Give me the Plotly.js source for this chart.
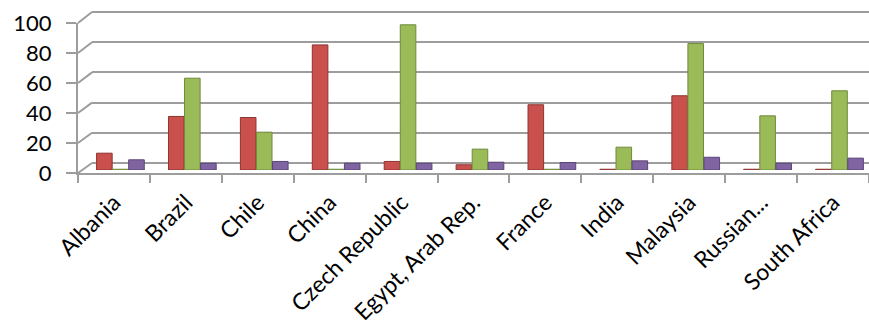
<!DOCTYPE html>
<html>
<head>
<meta charset="utf-8">
<script src="https://cdn.plot.ly/plotly-3.0.1.min.js"></script>
<style>
  html, body { margin: 0; padding: 0; background: #ffffff; }
  #chart { width: 869px; height: 335px; }
</style>
</head>
<body>
<div id="chart"></div>
<script>
// Country categories shown along the floor of the chart
const countries = [
  "Albania", "Brazil", "Chile", "China", "Czech Republic",
  "Egypt, Arab Rep.", "France", "India", "Malaysia", "Russian...", "South Africa"
];

// Three series per country (red, green, purple columns)
const seriesRed    = [11.2, 35.7, 35.0, 83.4,  5.7,  3.5, 43.5,  0.5, 49.5,  0.5,  0.5];
const seriesGreen  = [ 0.5, 61.2, 25.2,  0.5, 96.8, 13.9,  0.5, 15.2, 84.3, 36.1, 52.8];
const seriesPurple = [ 6.8,  4.5,  5.7,  4.5,  4.5,  5.2,  5.0,  6.1,  8.5,  4.5,  7.9];

// Value axis ticks
const yTicks = [0, 20, 40, 60, 80, 100];

const W = 869, H = 335;
const px = v => v / W;          // horizontal pixel -> paper fraction
const py = v => (H - v) / H;    // vertical pixel (from top) -> paper fraction

// Front plane (axis with labels), back wall (gridlines), middle depth (columns)
const front = { x0: 78, y0: 173, y100: 23 };
const back  = { x0: 92, y0: 163, y100: 12 };
const mid   = { y0: 170, y100: 20 };

const gridColor = "#9d9d9d";
const fontFamily = "Lato, 'Open Sans', sans-serif";

function seriesTrace(values, fill, edge) {
  return {
    type: "bar",
    x: countries,
    y: values,
    xaxis: "x3",
    yaxis: "y3",
    marker: { color: fill, line: { color: edge, width: 1 } },
    cliponaxis: false,
    hoverinfo: "x+y",
    showlegend: false
  };
}

const traces = [
  // empty trace so the back-wall subplot with its gridlines exists
  { type: "scatter", x: [], y: [], xaxis: "x2", yaxis: "y2",
    hoverinfo: "skip", showlegend: false },
  // empty trace on the front axes
  { type: "scatter", x: countries, y: countries.map(() => null), xaxis: "x", yaxis: "y",
    mode: "markers", hoverinfo: "skip", showlegend: false },
  seriesTrace(seriesRed,    "#C9504C", "#8E3431"),
  seriesTrace(seriesGreen,  "#9BBB59", "#6E8B3A"),
  seriesTrace(seriesPurple, "#8064A2", "#5A4478")
];

// Perspective connectors between the front axis ticks and the back-wall gridlines
const span = (p, v) => p.y0 + (p.y100 - p.y0) * v / 100;
const shapes = yTicks.map(v => ({
  type: "line", xref: "paper", yref: "paper",
  x0: px(front.x0), y0: py(span(front, v)),
  x1: px(back.x0),  y1: py(span(back, v)),
  line: { color: gridColor, width: 2 }, layer: "below"
}));

// back-wall y range padded slightly so 0 and 100 gridlines are drawn
const pad = 1;
const backUnit = (back.y0 - back.y100) / 100;

const layout = {
  width: W, height: H,
  margin: { l: 0, r: 0, t: 0, b: 0 },
  paper_bgcolor: "#ffffff",
  plot_bgcolor: "rgba(0,0,0,0)",
  showlegend: false,
  barmode: "group",
  bargap: 0.33,
  bargroupgap: 0.03,
  font: { family: fontFamily, color: "#000000" },
  shapes: shapes,

  // front axes: labels, ticks and axis lines
  xaxis: {
    domain: [px(front.x0), 1],
    anchor: "y",
    type: "category",
    range: [-0.5, countries.length - 0.5],
    showline: true, linecolor: gridColor, linewidth: 2,
    ticks: "outside", ticklen: 8, tickcolor: gridColor, tickwidth: 2,
    tickson: "boundaries",
    showgrid: false, zeroline: false,
    tickangle: -45,
    ticklabelstandoff: 5,
    tickfont: { family: fontFamily, size: 23, color: "#000000" },
    fixedrange: true
  },
  yaxis: {
    domain: [py(front.y0), py(front.y100)],
    anchor: "x",
    range: [0, 100],
    tickvals: yTicks,
    showline: true, linecolor: gridColor, linewidth: 2,
    ticks: "outside", ticklen: 10, tickcolor: gridColor, tickwidth: 2,
    showgrid: false, zeroline: false,
    ticklabelstandoff: 10,
    tickfont: { family: fontFamily, size: 22, color: "#000000" },
    fixedrange: true
  },

  // back wall: horizontal gridlines only
  xaxis2: {
    domain: [px(back.x0), 1],
    anchor: "y2",
    visible: false,
    range: [0, 1],
    fixedrange: true
  },
  yaxis2: {
    domain: [py(back.y0 + pad * backUnit), py(back.y100 - pad * backUnit)],
    anchor: "x2",
    range: [-pad, 100 + pad],
    tickvals: yTicks,
    showticklabels: false,
    ticks: "",
    showline: false,
    showgrid: true, gridcolor: gridColor, gridwidth: 2,
    zeroline: false,
    fixedrange: true
  },

  // columns, set back half way between front plane and back wall
  xaxis3: {
    domain: [px(front.x0), 1],
    anchor: "y3",
    type: "category",
    range: [-0.59, countries.length - 0.59],
    visible: false,
    fixedrange: true
  },
  yaxis3: {
    domain: [py(mid.y0), py(mid.y100)],
    anchor: "x3",
    range: [0, 100],
    visible: false,
    fixedrange: true
  }
};

Plotly.newPlot("chart", traces, layout, { displayModeBar: false, staticPlot: true });
</script>
</body>
</html>
